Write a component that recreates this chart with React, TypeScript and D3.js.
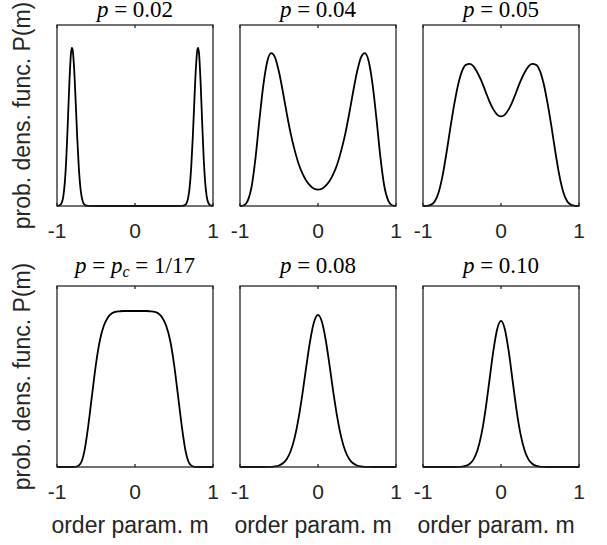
import React from "react";
import * as d3 from "d3";

// ---- data ----
const panelLabels = ["0.02", "0.04", "0.05", "pc", "0.08", "0.10"];
const xTickValues = [-1, 0, 1];
const xTickLabels = ["-1", "0", "1"];
const xAxisLabel = "order param. m";
const yAxisLabel = "prob. dens. func. P(m)";

// sample positions for p = 0.02 (finer near the sharp peaks)
const mFine = [
  -1, -0.96, -0.94, -0.92, -0.9, -0.88, -0.86, -0.84, -0.82, -0.81, -0.8, -0.78, -0.76, -0.74,
  -0.72, -0.7, -0.68, -0.66, -0.64, -0.6, -0.5, -0.3, 0, 0.3, 0.5, 0.6, 0.64, 0.66, 0.68, 0.7,
  0.72, 0.74, 0.76, 0.78, 0.8, 0.81, 0.82, 0.84, 0.86, 0.88, 0.9, 0.92, 0.94, 0.96, 1,
];
const density002 = [
  0, 0.005, 0.017, 0.051, 0.129, 0.271, 0.475, 0.694, 0.847, 0.874, 0.865, 0.757, 0.571, 0.372,
  0.209, 0.101, 0.042, 0.015, 0.005, 0.0005, 0, 0, 0, 0, 0, 0.0005, 0.005, 0.015, 0.042, 0.101,
  0.209, 0.372, 0.571, 0.757, 0.865, 0.874, 0.847, 0.694, 0.475, 0.271, 0.129, 0.051, 0.017, 0.005, 0,
];

// common grid for the other panels
const mGrid = [
  -1, -0.95, -0.9, -0.85, -0.8, -0.75, -0.7, -0.65, -0.6, -0.55, -0.5, -0.45, -0.4, -0.35, -0.3,
  -0.25, -0.2, -0.15, -0.1, -0.05, 0, 0.05, 0.1, 0.15, 0.2, 0.25, 0.3, 0.35, 0.4, 0.45, 0.5, 0.55,
  0.6, 0.65, 0.7, 0.75, 0.8, 0.85, 0.9, 0.95, 1,
];
const density004 = [
  0, 0.004, 0.03, 0.11, 0.27, 0.48, 0.67, 0.8, 0.845, 0.82, 0.74, 0.63, 0.51, 0.4, 0.31, 0.235,
  0.18, 0.14, 0.113, 0.095, 0.09, 0.095, 0.113, 0.14, 0.18, 0.235, 0.31, 0.4, 0.51, 0.63, 0.74,
  0.82, 0.845, 0.8, 0.67, 0.48, 0.27, 0.11, 0.03, 0.004, 0,
];
const density005 = [
  0, 0.001, 0.006, 0.025, 0.075, 0.165, 0.29, 0.43, 0.56, 0.67, 0.745, 0.78, 0.785, 0.77, 0.735,
  0.69, 0.635, 0.58, 0.535, 0.505, 0.495, 0.505, 0.535, 0.58, 0.635, 0.69, 0.735, 0.77, 0.785,
  0.78, 0.745, 0.67, 0.56, 0.43, 0.29, 0.165, 0.075, 0.025, 0.006, 0.001, 0,
];
const densityPc = [
  0, 0, 0, 0, 0, 0.002, 0.018, 0.085, 0.225, 0.4, 0.57, 0.7, 0.78, 0.825, 0.848, 0.857,
  0.86, 0.862, 0.862, 0.862, 0.862, 0.862, 0.862, 0.862, 0.86, 0.857, 0.848, 0.825, 0.78, 0.7,
  0.57, 0.4, 0.225, 0.085, 0.018, 0.002, 0, 0, 0, 0, 0,
];
const density008 = [
  0, 0, 0, 0, 0, 0, 0.0001, 0.0004, 0.0011, 0.0032, 0.0085, 0.0204, 0.0445, 0.0885, 0.161, 0.267,
  0.403, 0.556, 0.699, 0.802, 0.84, 0.802, 0.699, 0.556, 0.403, 0.267, 0.161, 0.0885, 0.0445,
  0.0204, 0.0085, 0.0032, 0.0011, 0.0004, 0.0001, 0, 0, 0, 0, 0, 0,
];
const density010 = [
  0, 0, 0, 0, 0, 0, 0, 0, 0.0001, 0.0006, 0.0021, 0.0065, 0.018, 0.0438, 0.0949, 0.183, 0.312,
  0.473, 0.636, 0.76, 0.807, 0.76, 0.636, 0.473, 0.312, 0.183, 0.0949, 0.0438, 0.018, 0.0065,
  0.0021, 0.0006, 0.0001, 0, 0, 0, 0, 0, 0, 0, 0,
];

const panelX = [mFine, mGrid, mGrid, mGrid, mGrid, mGrid];
const panelY = [density002, density004, density005, densityPc, density008, density010];

// ---- layout ----
const W = 607;
const H = 545;
const colLeft = [57, 240, 423];
const rowTop = [25, 286];
const titleBase = [17, 273];
const pw = 156;
const ph = 181;
const axisColor = "#262626";
const sans = "'Liberation Sans', Arial, Helvetica, sans-serif";
const serif = "'Liberation Serif', 'Times New Roman', serif";

function Title({ label, cx, y }: { label: string; cx: number; y: number }) {
  if (label === "pc") {
    return (
      <text x={cx} y={y} textAnchor="middle" fontFamily={serif} fontSize={23} fill="#000">
        <tspan fontStyle="italic">p</tspan>
        <tspan> = </tspan>
        <tspan fontStyle="italic">p</tspan>
        <tspan fontStyle="italic" fontSize={16} dy={4}>c</tspan>
        <tspan dy={-4}> = 1/17</tspan>
      </text>
    );
  }
  return (
    <text x={cx} y={y} textAnchor="middle" fontFamily={serif} fontSize={23} fill="#000">
      <tspan fontStyle="italic">p</tspan>
      <tspan> = {label}</tspan>
    </text>
  );
}

function Panel({ idx }: { idx: number }) {
  const col = idx % 3;
  const row = Math.floor(idx / 3);
  const x0 = colLeft[col];
  const y0 = rowTop[row];
  const xs = d3.scaleLinear().domain([-1, 1]).range([x0, x0 + pw]);
  const ys = d3.scaleLinear().domain([0, 1]).range([y0 + ph, y0]);
  const mVals = panelX[idx];
  const pVals = panelY[idx];
  const pts: [number, number][] = mVals.map((m, i) => [m, pVals[i]]);
  const line = d3
    .line<[number, number]>()
    .x((d) => xs(d[0]))
    .y((d) => ys(d[1]))
    .curve(d3.curveMonotoneX);
  const cx = x0 + pw / 2;
  const tickLen = 3;
  return (
    <g>
      <path d={line(pts) || ""} fill="none" stroke="#000" strokeWidth={1.8} strokeLinejoin="round" />
      <rect x={x0} y={y0} width={pw} height={ph} fill="none" stroke={axisColor} strokeWidth={1.3} />
      {xTickValues.map((t, i) => (
        <g key={i}>
          <line x1={xs(t)} x2={xs(t)} y1={y0 + ph} y2={y0 + ph - tickLen} stroke={axisColor} strokeWidth={1.3} />
          <line x1={xs(t)} x2={xs(t)} y1={y0} y2={y0 + tickLen} stroke={axisColor} strokeWidth={1.3} />
          <text x={xs(t)} y={y0 + ph + 32} textAnchor="middle" fontFamily={sans} fontSize={21} fill={axisColor}>
            {xTickLabels[i]}
          </text>
        </g>
      ))}
      <Title label={panelLabels[idx]} cx={cx} y={titleBase[row]} />
      {col === 0 && (
        <text
          transform={`translate(30,${y0 + ph / 2}) rotate(-90)`}
          textAnchor="middle"
          fontFamily={sans}
          fontSize={23}
          fill={axisColor}
        >
          {yAxisLabel}
        </text>
      )}
      {row === 1 && (
        <text x={cx - 5} y={533} textAnchor="middle" fontFamily={sans} fontSize={23} fill={axisColor}>
          {xAxisLabel}
        </text>
      )}
    </g>
  );
}

export default function App() {
  return (
    <svg
      width={W}
      height={H}
      viewBox={`0 0 ${W} ${H}`}
      style={{ position: "absolute", left: 0, top: 0, background: "#fff" }}
    >
      <rect width={W} height={H} fill="#fff" />
      {[0, 1, 2, 3, 4, 5].map((i) => (
        <Panel key={i} idx={i} />
      ))}
    </svg>
  );
}
